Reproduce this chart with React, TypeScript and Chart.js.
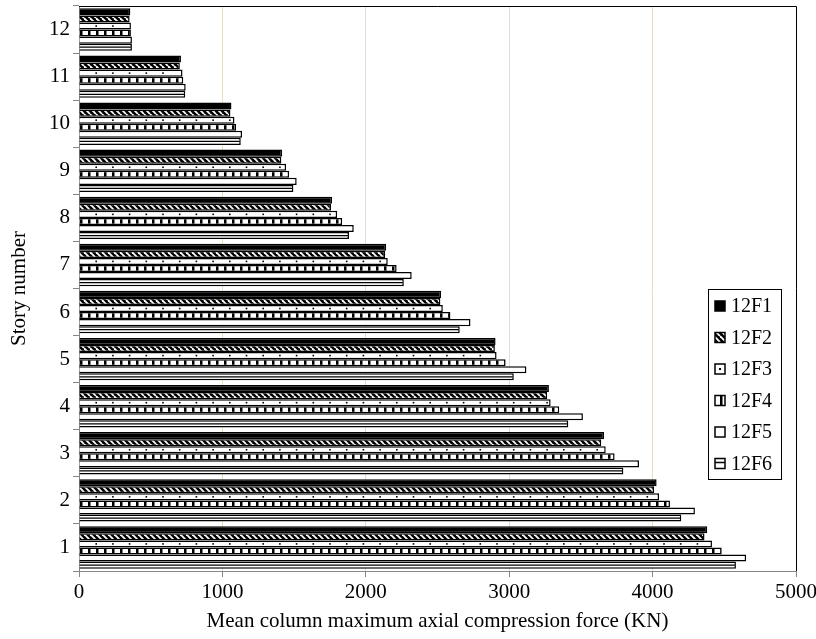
import React, { useEffect, useRef } from 'react';
import { Chart, registerables } from 'chart.js';
Chart.register(...registerables);

const stories = ['1', '2', '3', '4', '5', '6', '7', '8', '9', '10', '11', '12'];
const seriesNames = ['12F1', '12F2', '12F3', '12F4', '12F5', '12F6'];
const f1 = [4381, 4028, 3661, 3277, 2905, 2525, 2142, 1765, 1416, 1063, 711, 358];
const f2 = [4362, 4010, 3642, 3265, 2900, 2520, 2135, 1758, 1411, 1056, 703, 353];
const f3 = [4414, 4045, 3673, 3289, 2912, 2537, 2153, 1800, 1444, 1084, 722, 362];
const f4 = [4482, 4121, 3735, 3349, 2975, 2590, 2215, 1835, 1465, 1095, 727, 362];
const f5 = [4652, 4295, 3905, 3514, 3120, 2730, 2320, 1916, 1518, 1137, 744, 369];
const f6 = [4581, 4200, 3796, 3412, 3032, 2655, 2265, 1883, 1495, 1128, 741, 369];
const xTicks = [0, 1000, 2000, 3000, 4000, 5000];

const FONT = "'Liberation Serif', 'Times New Roman', serif";
const FS = 21;

function hatchPattern(): CanvasPattern | string {
  const c = document.createElement('canvas');
  c.width = 6;
  c.height = 6;
  const g = c.getContext('2d');
  if (!g) return '#000';
  g.fillStyle = '#000';
  g.fillRect(0, 0, 6, 6);
  g.strokeStyle = '#fff';
  g.lineWidth = 1.8;
  for (let k = -6; k <= 6; k += 6) {
    g.beginPath();
    g.moveTo(k, 0);
    g.lineTo(k + 6, 6);
    g.stroke();
  }
  return g.createPattern(c, 'repeat') || '#000';
}

function brickPattern(): CanvasPattern | string {
  const c = document.createElement('canvas');
  c.width = 8;
  c.height = 8;
  const g = c.getContext('2d');
  if (!g) return '#fff';
  g.fillStyle = '#fff';
  g.fillRect(0, 0, 8, 8);
  g.fillStyle = '#000';
  g.fillRect(0, 0, 2.5, 8);
  return g.createPattern(c, 'repeat') || '#fff';
}

const decorPlugin = {
  id: 'decor',
  afterDatasetsDraw(chart: any) {
    const ctx = chart.ctx;
    ctx.save();
    const m3 = chart.getDatasetMeta(2);
    ctx.fillStyle = '#000';
    m3.data.forEach((el: any) => {
      const p = el.getProps(['x', 'y', 'base'], true);
      for (let x = p.base + 16.7; x < p.x - 3; x += 16.7) {
        ctx.fillRect(x - 0.8, p.y - 0.8, 1.6, 1.6);
      }
    });
    const m6 = chart.getDatasetMeta(5);
    ctx.strokeStyle = '#000';
    ctx.lineWidth = 1.2;
    m6.data.forEach((el: any) => {
      const p = el.getProps(['x', 'y', 'base'], true);
      ctx.beginPath();
      ctx.moveTo(p.base, p.y);
      ctx.lineTo(p.x - 1, p.y);
      ctx.stroke();
    });
    ctx.restore();
  },
  afterDraw(chart: any) {
    const ctx = chart.ctx;
    const a = chart.chartArea;
    ctx.save();
    ctx.strokeStyle = '#000';
    ctx.lineWidth = 1;
    ctx.beginPath();
    ctx.moveTo(a.left, a.top + 0.5);
    ctx.lineTo(a.right + 0.5, a.top + 0.5);
    ctx.lineTo(a.right + 0.5, a.bottom);
    ctx.stroke();
    const bx = a.right - 88;
    const by = a.top + 283;
    const bw = 73;
    const bh = 190;
    ctx.fillStyle = '#fff';
    ctx.fillRect(bx, by, bw, bh);
    ctx.strokeStyle = '#000';
    ctx.lineWidth = 1;
    ctx.strokeRect(bx + 0.5, by + 0.5, bw, bh);
    ctx.font = `20px ${FONT}`;
    ctx.textBaseline = 'middle';
    chart.data.datasets.forEach((ds: any, i: number) => {
      const cy = by + 17 + i * 31.5;
      const sx = bx + 7;
      const s = 10;
      ctx.fillStyle = ds.backgroundColor;
      ctx.fillRect(sx, cy - s / 2, s, s);
      ctx.strokeStyle = '#000';
      ctx.lineWidth = 1.5;
      ctx.strokeRect(sx, cy - s / 2, s, s);
      if (i === 2) {
        ctx.fillStyle = '#000';
        ctx.fillRect(sx + s / 2 - 1, cy - 1, 2, 2);
      }
      if (i === 5) {
        ctx.beginPath();
        ctx.moveTo(sx, cy - 1);
        ctx.lineTo(sx + s, cy - 1);
        ctx.stroke();
      }
      ctx.fillStyle = '#000';
      ctx.fillText(ds.label, bx + 23, cy + 1);
    });
    ctx.restore();
  },
};

export default function App() {
  const ref = useRef<HTMLCanvasElement | null>(null);
  useEffect(() => {
    if (!ref.current) return;
    Chart.defaults.font.family = FONT;
    Chart.defaults.font.size = FS;
    Chart.defaults.color = '#000';
    const values = [f1, f2, f3, f4, f5, f6];
    const fills: any[] = ['#000', hatchPattern(), '#fff', brickPattern(), '#fff', '#fff'];
    const chart = new Chart(ref.current, {
      type: 'bar',
      data: {
        labels: stories,
        datasets: seriesNames.map((name, i) => ({
          label: name,
          data: values[i],
          backgroundColor: fills[i],
          borderColor: '#000',
          borderWidth: 1.5,
          barPercentage: 1,
          categoryPercentage: 0.9,
        })),
      },
      options: {
        indexAxis: 'y',
        responsive: false,
        animation: false,
        layout: { padding: { top: 6, right: 20, left: 0, bottom: 0 } },
        plugins: { legend: { display: false }, tooltip: { enabled: false } },
        scales: {
          x: {
            min: 0,
            max: 5000,
            afterBuildTicks: (s: any) => {
              s.ticks = xTicks.map((v) => ({ value: v }));
            },
            afterFit: (s: any) => {
              s.height = 68;
              s.paddingLeft = 0;
              s.paddingRight = 0;
            },
            grid: { color: '#e3ddcc', tickColor: '#868686', tickLength: 6, lineWidth: 1 },
            border: { color: '#868686', width: 1 },
            ticks: { padding: 3, font: { size: FS }, callback: (v: any) => String(v) },
            title: {
              display: true,
              text: 'Mean column maximum axial compression force (KN)',
              font: { size: FS },
              padding: { top: 0, bottom: 5 },
            },
          },
          y: {
            reverse: true,
            afterFit: (s: any) => {
              s.width = 79;
              s.paddingTop = 0;
              s.paddingBottom = 0;
            },
            grid: { drawOnChartArea: false, color: '#868686', tickLength: 6 },
            border: { color: '#868686', width: 1 },
            ticks: { padding: 3, font: { size: FS } },
            title: {
              display: true,
              text: 'Story number',
              font: { size: FS },
              padding: { top: 7, bottom: 0 },
            },
          },
        },
      },
      plugins: [decorPlugin],
    });
    return () => chart.destroy();
  }, []);
  return (
    <div style={{ position: 'absolute', left: 0, top: 0, width: 816, height: 639, background: '#fff' }}>
      <canvas ref={ref} width={816} height={639} />
    </div>
  );
}
